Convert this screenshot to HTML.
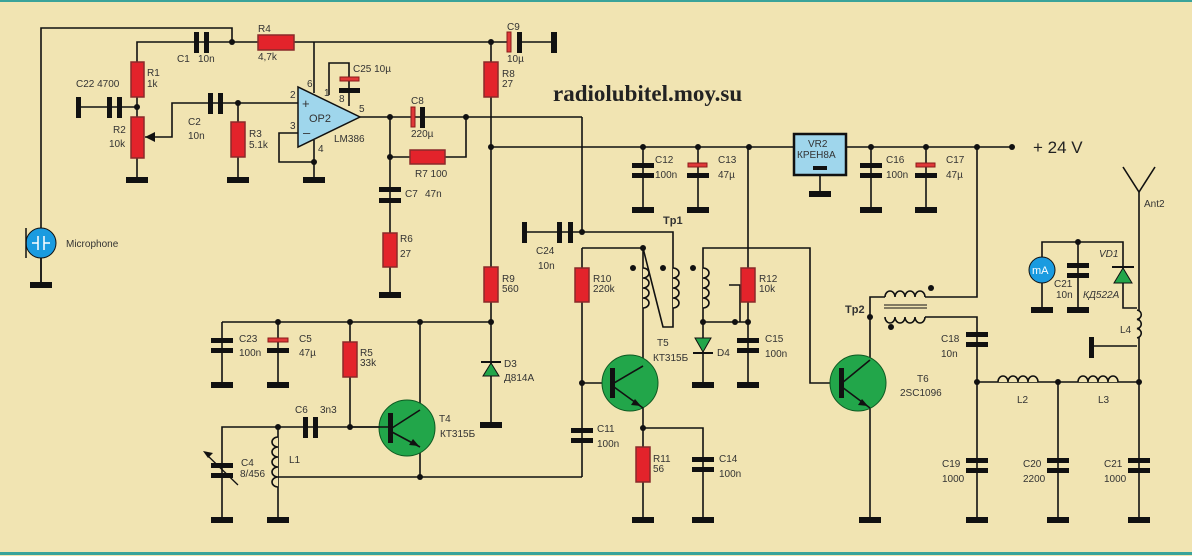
<!DOCTYPE html>
<html><head><meta charset="utf-8"><style>
html,body{margin:0;padding:0;background:#f1e4b2;}
svg{display:block}
text{font-family:"Liberation Sans",Arial,sans-serif;font-size:10px;fill:#333;}
</style></head><body>
<svg width="1192" height="556" viewBox="0 0 1192 556" xmlns="http://www.w3.org/2000/svg">
<rect width="1192" height="556" fill="#f1e4b2"/>
<rect x="0" y="0" width="1192" height="2" fill="#3aa39a"/>
<rect x="0" y="552" width="1192" height="3" fill="#3aa39a"/>
<g stroke="#111" stroke-width="1.6" fill="none">
<!-- mic -->
<polyline points="41,285 41,28 232,28 232,42"/>
<!-- top wire -->
<polyline points="137,62 137,42 258,42"/>
<line x1="294" y1="42" x2="509" y2="42"/>
<line x1="519" y1="42" x2="554" y2="42"/>
<line x1="314" y1="42" x2="314" y2="93"/>
<!-- R1 R2 -->
<line x1="137" y1="97" x2="137" y2="117"/>
<line x1="137" y1="158" x2="137" y2="180"/>
<line x1="78" y1="107" x2="137" y2="107"/>
<polyline points="145,137 172,137 172,103 298,103"/>
<line x1="238" y1="103" x2="238" y2="180"/>
<!-- opamp -->
<polyline points="298,133 279,133 279,162 314,162"/>
<line x1="314" y1="140" x2="314" y2="180"/>
<polyline points="329,95 329,63 349,63 349,106"/>
<line x1="360" y1="117" x2="582" y2="117"/>
<polyline points="582,117 582,232"/>
<line x1="390" y1="117" x2="390" y2="295"/>
<polyline points="390,157 410,157"/><polyline points="445,157 466,157 466,117"/>
<!-- R8 column -->
<line x1="491" y1="42" x2="491" y2="425"/>
<line x1="491" y1="147" x2="1012" y2="147"/>
<!-- C24 -->
<line x1="524" y1="232" x2="582" y2="232"/>
<polyline points="582,232 673,232 673,327 663,327 643,248"/>
<!-- T5 area -->
<polyline points="582,248 643,248 643,408"/>
<line x1="582" y1="248" x2="582" y2="477"/>
<line x1="582" y1="383" x2="612" y2="383"/>
<polyline points="582,477 278,477"/>
<line x1="643" y1="408" x2="643" y2="520"/>
<polyline points="643,428 703,428 703,520"/>
<!-- third coil -->
<polyline points="703,322 703,248 810,248 810,383 842,383"/>
<line x1="703" y1="322" x2="748" y2="322"/>
<polyline points="729,285 740,285 740,322"/>
<line x1="703" y1="322" x2="703" y2="385"/>
<line x1="748" y1="147" x2="748" y2="385"/>
<!-- caps on rail -->
<line x1="643" y1="147" x2="643" y2="210"/>
<line x1="698" y1="147" x2="698" y2="210"/>
<line x1="871" y1="147" x2="871" y2="210"/>
<line x1="926" y1="147" x2="926" y2="210"/>
<line x1="820" y1="175" x2="820" y2="194"/>
<!-- T6 -->
<polyline points="870,360 870,317 870,297 885,297"/>
<polyline points="925,297 977,297 977,147"/>
<polyline points="925,317 977,317 977,520"/>
<line x1="870" y1="400" x2="870" y2="520"/>
<line x1="977" y1="382" x2="1139" y2="382"/>
<line x1="1058" y1="382" x2="1058" y2="520"/>
<!-- antenna -->
<line x1="1139" y1="192" x2="1139" y2="520"/>
<polyline points="1123,167 1139,192 1155,167"/>
<polyline points="1042,310 1042,242 1123,242 1123,308 1137,308"/>
<line x1="1078" y1="242" x2="1078" y2="310"/>
<polyline points="1137,346 1091,346"/>
<!-- bottom left -->
<line x1="222" y1="322" x2="491" y2="322"/>
<line x1="222" y1="322" x2="222" y2="385"/>
<line x1="278" y1="322" x2="278" y2="385"/>
<line x1="350" y1="322" x2="350" y2="427"/>
<line x1="420" y1="322" x2="420" y2="410"/>
<line x1="420" y1="445" x2="420" y2="477"/>
<polyline points="222,520 222,427 380,427"/>
<line x1="278" y1="427" x2="278" y2="520"/>
<line x1="41" y1="258" x2="41" y2="285"/>
</g>
<!-- coils -->
<g stroke="#111" stroke-width="1.6" fill="#f1e4b2">
<path d="M643,268 a6,5 0 0 1 0,10 a6,5 0 0 1 0,10 a6,5 0 0 1 0,10 a6,5 0 0 1 0,10"/>
<path d="M673,268 a6,5 0 0 1 0,10 a6,5 0 0 1 0,10 a6,5 0 0 1 0,10 a6,5 0 0 1 0,10"/>
<path d="M703,268 a6,5 0 0 1 0,10 a6,5 0 0 1 0,10 a6,5 0 0 1 0,10 a6,5 0 0 1 0,10"/>
<path d="M278,437 a6,5 0 0 0 0,10 a6,5 0 0 0 0,10 a6,5 0 0 0 0,10 a6,5 0 0 0 0,10 a6,5 0 0 0 0,10"/>
<path d="M1137,310 a5,4.7 0 0 1 0,9.3 a5,4.7 0 0 1 0,9.3 a5,4.7 0 0 1 0,9.3"/>
<path d="M885,297 a5,6 0 0 1 10,0 a5,6 0 0 1 10,0 a5,6 0 0 1 10,0 a5,6 0 0 1 10,0"/>
<path d="M885,317 a5,6 0 0 0 10,0 a5,6 0 0 0 10,0 a5,6 0 0 0 10,0 a5,6 0 0 0 10,0"/>
<path d="M998,382 a5,6 0 0 1 10,0 a5,6 0 0 1 10,0 a5,6 0 0 1 10,0 a5,6 0 0 1 10,0"/>
<path d="M1078,382 a5,6 0 0 1 10,0 a5,6 0 0 1 10,0 a5,6 0 0 1 10,0 a5,6 0 0 1 10,0"/>
</g>
<line x1="884" y1="305" x2="927" y2="305" stroke="#111" stroke-width="1"/>
<line x1="884" y1="308" x2="927" y2="308" stroke="#111" stroke-width="1"/>
<!-- caps: plates -->
<g fill="#111">
<rect x="194" y="32" width="5" height="21"/><rect x="204" y="32" width="5" height="21"/>
<rect x="517" y="32" width="5" height="21"/>
<rect x="551" y="32" width="6" height="21"/>
<rect x="76" y="97" width="5" height="21"/>
<rect x="107" y="97" width="5" height="21"/><rect x="117" y="97" width="5" height="21"/>
<rect x="208" y="93" width="5" height="21"/><rect x="218" y="93" width="5" height="21"/>
<rect x="339" y="88" width="21" height="5"/>
<rect x="420" y="107" width="5" height="21"/>
<rect x="379" y="187" width="22" height="5"/><rect x="379" y="198" width="22" height="5"/>
<rect x="522" y="222" width="5" height="21"/>
<rect x="557" y="222" width="5" height="21"/><rect x="568" y="222" width="5" height="21"/>
<rect x="632" y="163" width="22" height="5"/><rect x="632" y="173" width="22" height="5"/>
<rect x="687" y="173" width="22" height="5"/>
<rect x="860" y="163" width="22" height="5"/><rect x="860" y="173" width="22" height="5"/>
<rect x="915" y="173" width="22" height="5"/>
<rect x="737" y="338" width="22" height="5"/><rect x="737" y="348" width="22" height="5"/>
<rect x="571" y="428" width="22" height="5"/><rect x="571" y="438" width="22" height="5"/>
<rect x="692" y="457" width="22" height="5"/><rect x="692" y="467" width="22" height="5"/>
<rect x="966" y="332" width="22" height="5"/><rect x="966" y="342" width="22" height="5"/>
<rect x="966" y="458" width="22" height="5"/><rect x="966" y="468" width="22" height="5"/>
<rect x="1047" y="458" width="22" height="5"/><rect x="1047" y="468" width="22" height="5"/>
<rect x="1128" y="458" width="22" height="5"/><rect x="1128" y="468" width="22" height="5"/>
<rect x="1067" y="263" width="22" height="5"/><rect x="1067" y="273" width="22" height="5"/>
<rect x="211" y="338" width="22" height="5"/><rect x="211" y="348" width="22" height="5"/>
<rect x="267" y="348" width="22" height="5"/>
<rect x="211" y="463" width="22" height="5"/><rect x="211" y="473" width="22" height="5"/>
<rect x="303" y="417" width="5" height="21"/><rect x="313" y="417" width="5" height="21"/>
<rect x="1089" y="337" width="5" height="21"/>
<!-- grounds -->
<rect x="30" y="282" width="22" height="6"/>
<rect x="126" y="177" width="22" height="6"/>
<rect x="227" y="177" width="22" height="6"/>
<rect x="303" y="177" width="22" height="6"/>
<rect x="379" y="292" width="22" height="6"/>
<rect x="632" y="207" width="22" height="6"/><rect x="687" y="207" width="22" height="6"/>
<rect x="809" y="191" width="22" height="6"/>
<rect x="860" y="207" width="22" height="6"/><rect x="915" y="207" width="22" height="6"/>
<rect x="692" y="382" width="22" height="6"/><rect x="737" y="382" width="22" height="6"/>
<rect x="632" y="517" width="22" height="6"/><rect x="692" y="517" width="22" height="6"/>
<rect x="859" y="517" width="22" height="6"/><rect x="966" y="517" width="22" height="6"/>
<rect x="1047" y="517" width="22" height="6"/><rect x="1128" y="517" width="22" height="6"/>
<rect x="1031" y="307" width="22" height="6"/><rect x="1067" y="307" width="22" height="6"/>
<rect x="211" y="382" width="22" height="6"/><rect x="267" y="382" width="22" height="6"/>
<rect x="480" y="422" width="22" height="6"/>
<rect x="211" y="517" width="22" height="6"/><rect x="267" y="517" width="22" height="6"/>
</g>
<!-- electrolytic red plates -->
<g fill="#e03838" stroke="#8a1a1a" stroke-width="1">
<rect x="507" y="32" width="4" height="20"/>
<rect x="411" y="107" width="4" height="20"/>
<rect x="340" y="77" width="19" height="4"/>
<rect x="688" y="163" width="19" height="4"/>
<rect x="916" y="163" width="19" height="4"/>
<rect x="268" y="338" width="20" height="4"/>
</g>
<!-- variable cap arrow -->
<line x1="207" y1="455" x2="238" y2="485" stroke="#111" stroke-width="1.3"/>
<path d="M203,451 l10,2 l-5,5 z" fill="#111"/>
<!-- resistors -->
<g fill="#e3232b" stroke="#8a2a2a" stroke-width="1.5">
<rect x="258" y="35" width="36" height="15"/>
<rect x="131" y="62" width="13" height="35"/>
<rect x="131" y="117" width="13" height="41"/>
<rect x="231" y="122" width="14" height="35"/>
<rect x="484" y="62" width="14" height="35"/>
<rect x="410" y="150" width="35" height="14"/>
<rect x="383" y="233" width="14" height="34"/>
<rect x="484" y="267" width="14" height="35"/>
<rect x="575" y="268" width="14" height="34"/>
<rect x="741" y="268" width="14" height="34"/>
<rect x="636" y="447" width="14" height="35"/>
<rect x="343" y="342" width="14" height="35"/>
</g>
<path d="M145,137 l10,-5 v10 z" fill="#111"/>
<!-- opamp -->
<polygon points="298,87 298,147 360,117" fill="#9fd6ec" stroke="#111" stroke-width="1.5"/>
<text x="302" y="108" style="font-size:13px">+</text>
<text x="303" y="137" style="font-size:13px">–</text>
<text x="309" y="122" style="font-size:11px">OP2</text>
<!-- VR2 -->
<rect x="794" y="134" width="52" height="41" fill="#9fd6ec" stroke="#111" stroke-width="2.5"/>
<rect x="813" y="166" width="14" height="4" fill="#111"/>
<text x="808" y="147">VR2</text><text x="797" y="158">КРЕН8А</text>
<!-- mic -->
<circle cx="41" cy="243" r="15" fill="#1a9be0" stroke="#111" stroke-width="1"/>
<line x1="26" y1="228" x2="26" y2="258" stroke="#111" stroke-width="1.5"/>
<g stroke="#fff" stroke-width="1.5"><line x1="38" y1="236" x2="38" y2="250"/><line x1="44" y1="236" x2="44" y2="250"/><line x1="32" y1="243" x2="38" y2="243"/><line x1="44" y1="243" x2="50" y2="243"/></g>
<!-- mA -->
<circle cx="1042" cy="270" r="13" fill="#1a9be0" stroke="#111" stroke-width="1"/>
<text x="1032" y="274" style="fill:#fff;font-size:11px">mA</text>
<!-- transistors -->
<g fill="#22a64a" stroke="#0e5a22" stroke-width="1">
<circle cx="407" cy="428" r="28"/><circle cx="630" cy="383" r="28"/><circle cx="858" cy="383" r="28"/>
</g>
<g stroke="#111" stroke-width="1.6">
<line x1="350" y1="427" x2="390" y2="427"/>
<line x1="392" y1="428" x2="420" y2="410"/><line x1="392" y1="432" x2="420" y2="447"/>
<line x1="614" y1="383" x2="643" y2="366"/><line x1="614" y1="387" x2="643" y2="408"/>
<line x1="842" y1="383" x2="870" y2="360"/><line x1="842" y1="387" x2="870" y2="408"/>
</g>
<g fill="#111">
<rect x="388" y="413" width="5" height="30"/><rect x="610" y="368" width="5" height="30"/><rect x="839" y="368" width="5" height="30"/>
<path d="M419,446 l-10,-1 l4,-6z"/><path d="M641,406 l-10,-1 l4,-6z"/><path d="M868,406 l-10,-1 l4,-6z"/>
</g>
<!-- diodes -->
<g fill="#22a64a" stroke="#111" stroke-width="1">
<polygon points="491,363 483,376 499,376"/>
<polygon points="703,352 695,338 711,338"/>
<polygon points="1123,268 1114,283 1132,283"/>
</g>
<g stroke="#111" stroke-width="2"><line x1="481" y1="362" x2="501" y2="362"/><line x1="693" y1="353" x2="713" y2="353"/><line x1="1112" y1="267" x2="1134" y2="267"/></g>
<!-- nodes -->
<g fill="#111">
<circle cx="232" cy="42" r="3"/><circle cx="491" cy="42" r="3"/><circle cx="137" cy="107" r="3"/><circle cx="238" cy="103" r="3"/>
<circle cx="314" cy="162" r="3"/><circle cx="390" cy="117" r="3"/><circle cx="466" cy="117" r="3"/><circle cx="390" cy="157" r="3"/>
<circle cx="491" cy="147" r="3"/><circle cx="582" cy="232" r="3"/><circle cx="643" cy="248" r="3"/>
<circle cx="643" cy="147" r="3"/><circle cx="698" cy="147" r="3"/><circle cx="749" cy="147" r="3"/>
<circle cx="871" cy="147" r="3"/><circle cx="926" cy="147" r="3"/><circle cx="977" cy="147" r="3"/><circle cx="1012" cy="147" r="3"/>
<circle cx="633" cy="268" r="3"/><circle cx="663" cy="268" r="3"/><circle cx="693" cy="268" r="3"/>
<circle cx="703" cy="322" r="3"/><circle cx="735" cy="322" r="3"/><circle cx="748" cy="322" r="3"/>
<circle cx="582" cy="383" r="3"/><circle cx="643" cy="428" r="3"/>
<circle cx="870" cy="317" r="3"/><circle cx="931" cy="288" r="3"/><circle cx="891" cy="327" r="3"/>
<circle cx="977" cy="382" r="3"/><circle cx="1058" cy="382" r="3"/><circle cx="1139" cy="382" r="3"/><circle cx="1078" cy="242" r="3"/>
<circle cx="278" cy="322" r="3"/><circle cx="350" cy="322" r="3"/><circle cx="420" cy="322" r="3"/><circle cx="491" cy="322" r="3"/>
<circle cx="278" cy="427" r="3"/><circle cx="350" cy="427" r="3"/><circle cx="420" cy="477" r="3"/>
</g>
<!-- labels -->
<text x="553" y="101" style="font-family:'Liberation Serif',serif;font-weight:bold;font-size:23px;fill:#222">radiolubitel.moy.su</text>
<text x="1033" y="153" style="font-size:17px;fill:#222">+ 24 V</text>
<text x="66" y="247">Microphone</text>
<text x="258" y="32">R4</text><text x="258" y="60">4,7k</text>
<text x="177" y="62">C1</text><text x="198" y="62">10n</text>
<text x="147" y="76">R1</text><text x="147" y="87">1k</text>
<text x="76" y="87">C22 4700</text>
<text x="113" y="133">R2</text><text x="109" y="147">10k</text>
<text x="188" y="125">C2</text><text x="188" y="139">10n</text>
<text x="249" y="137">R3</text><text x="249" y="148">5.1k</text>
<text x="290" y="98">2</text><text x="290" y="129">3</text><text x="307" y="87">6</text><text x="324" y="96">1</text><text x="339" y="102">8</text><text x="359" y="112">5</text><text x="318" y="152">4</text>
<text x="334" y="142">LM386</text>
<text x="353" y="72">C25 10µ</text>
<text x="411" y="104">C8</text><text x="411" y="137">220µ</text>
<text x="415" y="177">R7 100</text>
<text x="405" y="197">C7</text><text x="425" y="197">47n</text>
<text x="400" y="242">R6</text><text x="400" y="257">27</text>
<text x="507" y="30">C9</text><text x="507" y="62">10µ</text>
<text x="502" y="77">R8</text><text x="502" y="87">27</text>
<text x="536" y="254">C24</text><text x="538" y="269">10n</text>
<text x="502" y="282">R9</text><text x="502" y="292">560</text>
<text x="663" y="224" style="font-weight:bold;font-size:11px">Tp1</text>
<text x="593" y="282">R10</text><text x="593" y="292">220k</text>
<text x="759" y="282">R12</text><text x="759" y="292">10k</text>
<text x="657" y="346">T5</text><text x="653" y="361">КТ315Б</text>
<text x="717" y="356">D4</text>
<text x="765" y="342">C15</text><text x="765" y="357">100n</text>
<text x="655" y="163">C12</text><text x="655" y="178">100n</text>
<text x="718" y="163">C13</text><text x="718" y="178">47µ</text>
<text x="886" y="163">C16</text><text x="886" y="178">100n</text>
<text x="946" y="163">C17</text><text x="946" y="178">47µ</text>
<text x="1144" y="207">Ant2</text>
<text x="1099" y="257" style="font-style:italic">VD1</text>
<text x="1054" y="287">C21</text><text x="1056" y="298">10n</text>
<text x="1083" y="298" style="font-style:italic">КД522А</text>
<text x="1120" y="333">L4</text>
<text x="845" y="313" style="font-weight:bold;font-size:11px">Tp2</text>
<text x="941" y="342">C18</text><text x="941" y="357">10n</text>
<text x="917" y="382">T6</text><text x="900" y="396">2SC1096</text>
<text x="1017" y="403">L2</text><text x="1098" y="403">L3</text>
<text x="942" y="467">C19</text><text x="942" y="482">1000</text>
<text x="1023" y="467">C20</text><text x="1023" y="482">2200</text>
<text x="1104" y="467">C21</text><text x="1104" y="482">1000</text>
<text x="597" y="432">C11</text><text x="597" y="447">100n</text>
<text x="653" y="462">R11</text><text x="653" y="472">56</text>
<text x="719" y="462">C14</text><text x="719" y="477">100n</text>
<text x="504" y="367">D3</text><text x="504" y="381">Д814А</text>
<text x="439" y="422">T4</text><text x="440" y="437">КТ315Б</text>
<text x="239" y="342">C23</text><text x="239" y="356">100n</text>
<text x="299" y="342">C5</text><text x="299" y="356">47µ</text>
<text x="360" y="356">R5</text><text x="360" y="366">33k</text>
<text x="295" y="413">C6</text><text x="320" y="413">3n3</text>
<text x="241" y="466">C4</text><text x="240" y="477">8/456</text>
<text x="289" y="463">L1</text>
</svg>
</body></html>
